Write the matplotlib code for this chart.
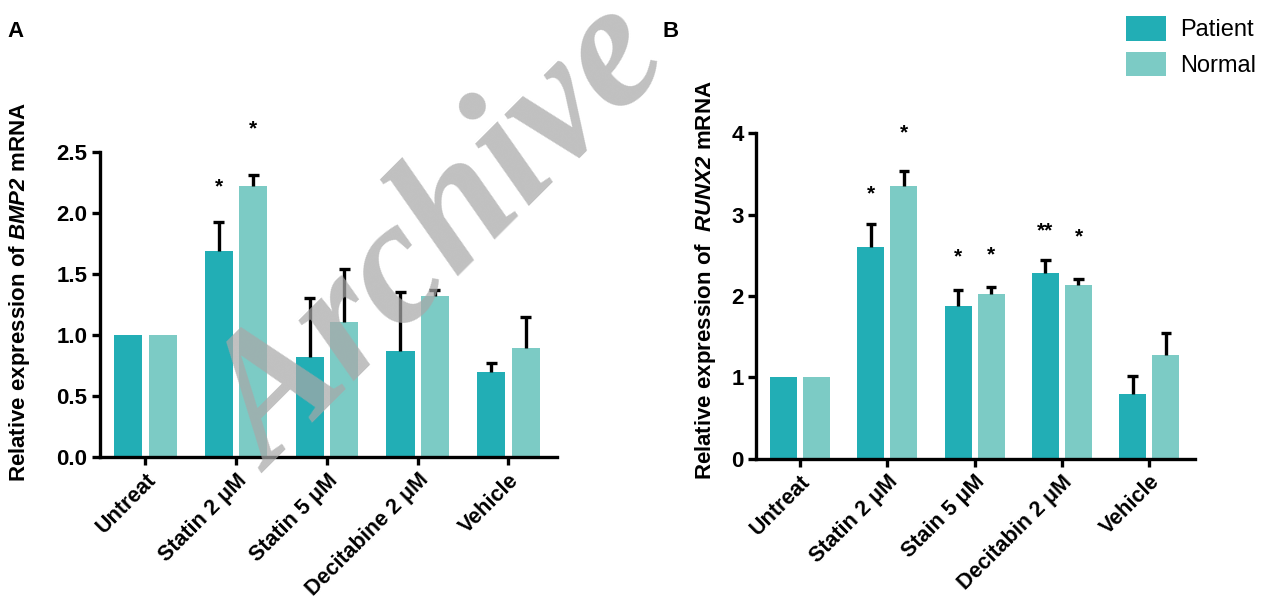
import matplotlib.pyplot as plt
import numpy as np

plt.rcParams['font.family'] = ['Liberation Sans', 'DejaVu Sans']
plt.rcParams['mathtext.fontset'] = 'custom'
plt.rcParams['mathtext.it'] = 'Liberation Sans:bold:italic'
plt.rcParams['mathtext.rm'] = 'Liberation Sans:bold:italic'

# Panel A: BMP2
cats_a = ["Untreat", "Statin 2 μM", "Statin 5 μM", "Decitabine 2 μM", "Vehicle"]
patient_a = [1.0, 1.69, 0.82, 0.87, 0.70]
patient_a_err = [0.0, 0.24, 0.48, 0.48, 0.07]
normal_a = [1.0, 2.22, 1.11, 1.32, 0.89]
normal_a_err = [0.0, 0.09, 0.43, 0.05, 0.26]
stars_a = [("", ""), ("*", "*"), ("", ""), ("", ""), ("", "")]
star_y_a = [(0, 0), (2.21, 2.69), (0, 0), (0, 0), (0, 0)]

# Panel B: RUNX2
cats_b = ["Untreat", "Statin 2 μM", "Stain 5 μM", "Decitabin 2 μM", "Vehicle"]
patient_b = [1.0, 2.60, 1.88, 2.28, 0.80]
patient_b_err = [0.0, 0.29, 0.19, 0.16, 0.22]
normal_b = [1.0, 3.35, 2.03, 2.13, 1.28]
normal_b_err = [0.0, 0.19, 0.08, 0.08, 0.27]
stars_b = [("", ""), ("*", "*"), ("*", "*"), ("**", "*"), ("", "")]
star_y_b = [(0, 0), (3.26, 4.0), (2.48, 2.50), (2.80, 2.73), (0, 0)]

c_patient = "#22aeb5"
c_normal = "#7ccbc5"

fig = plt.figure(figsize=(12.65, 6.03), dpi=100)
ax_a = fig.add_axes([0.079, 0.242, 0.361, 0.506])
ax_b = fig.add_axes([0.598, 0.239, 0.347, 0.540])


def draw(ax, cats, pv, pe, nv, ne, stars, star_y, ylim, yticks, yfmt):
    x = np.arange(len(cats))
    w = 0.31
    off = 0.19
    ax.bar(x - off, pv, w, color=c_patient, label="Patient", zorder=2)
    ax.bar(x + off, nv, w, color=c_normal, label="Normal", zorder=2)
    # upper-only error bars
    for xs, vals, errs in [(x - off, pv, pe), (x + off, nv, ne)]:
        for xi, v, e in zip(xs, vals, errs):
            if e > 0:
                ax.vlines(xi, v, v + e, color="black", lw=2.4, zorder=3)
                ax.hlines(v + e, xi - 0.06, xi + 0.06, color="black", lw=2.4,
                          zorder=3)
    for xi, (sp, sn), (yp, yn) in zip(x, stars, star_y):
        if sp:
            ax.text(xi - off, yp, sp, ha="center", va="center", fontsize=15,
                    fontweight="bold", clip_on=False)
        if sn:
            ax.text(xi + off, yn, sn, ha="center", va="center", fontsize=15,
                    fontweight="bold", clip_on=False)
    ax.set_xlim(-0.5, 4.53)
    ax.set_ylim(*ylim)
    ax.set_yticks(yticks)
    ax.set_yticklabels([yfmt.format(t) for t in yticks], fontsize=16,
                       fontweight="bold")
    ax.set_xticks(x)
    ax.set_xticklabels(cats, rotation=45, ha="right", rotation_mode="anchor",
                       fontsize=15.5, fontweight="bold")
    for s in ["top", "right"]:
        ax.spines[s].set_visible(False)
    for s in ["left", "bottom"]:
        ax.spines[s].set_linewidth(2.4)
    ax.tick_params(width=2.4, length=6, direction="out", pad=3)


draw(ax_a, cats_a, patient_a, patient_a_err, normal_a, normal_a_err,
     stars_a, star_y_a, (0, 2.5), [0.0, 0.5, 1.0, 1.5, 2.0, 2.5], "{:.1f}")
draw(ax_b, cats_b, patient_b, patient_b_err, normal_b, normal_b_err,
     stars_b, star_y_b, (0, 4), [0, 1, 2, 3, 4], "{:.0f}")

fig.text(20 / 1265, 1 - 292 / 603, "Relative expression of $\\it{BMP2}$ mRNA",
         rotation=90, ha="center", va="center", fontsize=16, fontweight="bold")
fig.text(705 / 1265, 1 - 280 / 603, "Relative expression of  $\\it{RUNX2}$ mRNA",
         rotation=90, ha="center", va="center", fontsize=16, fontweight="bold")

fig.text(0.006, 0.965, "A", fontsize=16, fontweight="bold", va="top")
fig.text(0.524, 0.965, "B", fontsize=16, fontweight="bold", va="top")

handles, labels = ax_b.get_legend_handles_labels()
fig.legend(handles, labels, loc="upper right", bbox_to_anchor=(1.012, 1.012),
           frameon=False, fontsize=17, handlelength=1.7, handleheight=1.2,
           labelspacing=0.45, handletextpad=0.6, borderaxespad=0.6)

# watermark
fig.text(0.350, 0.600, "Archive", fontsize=128, fontweight="bold", style="italic",
         family="Liberation Serif", color="#a8a8a8", alpha=0.72, rotation=45,
         ha="center", va="center")

fig.savefig("out.png", dpi=100)
